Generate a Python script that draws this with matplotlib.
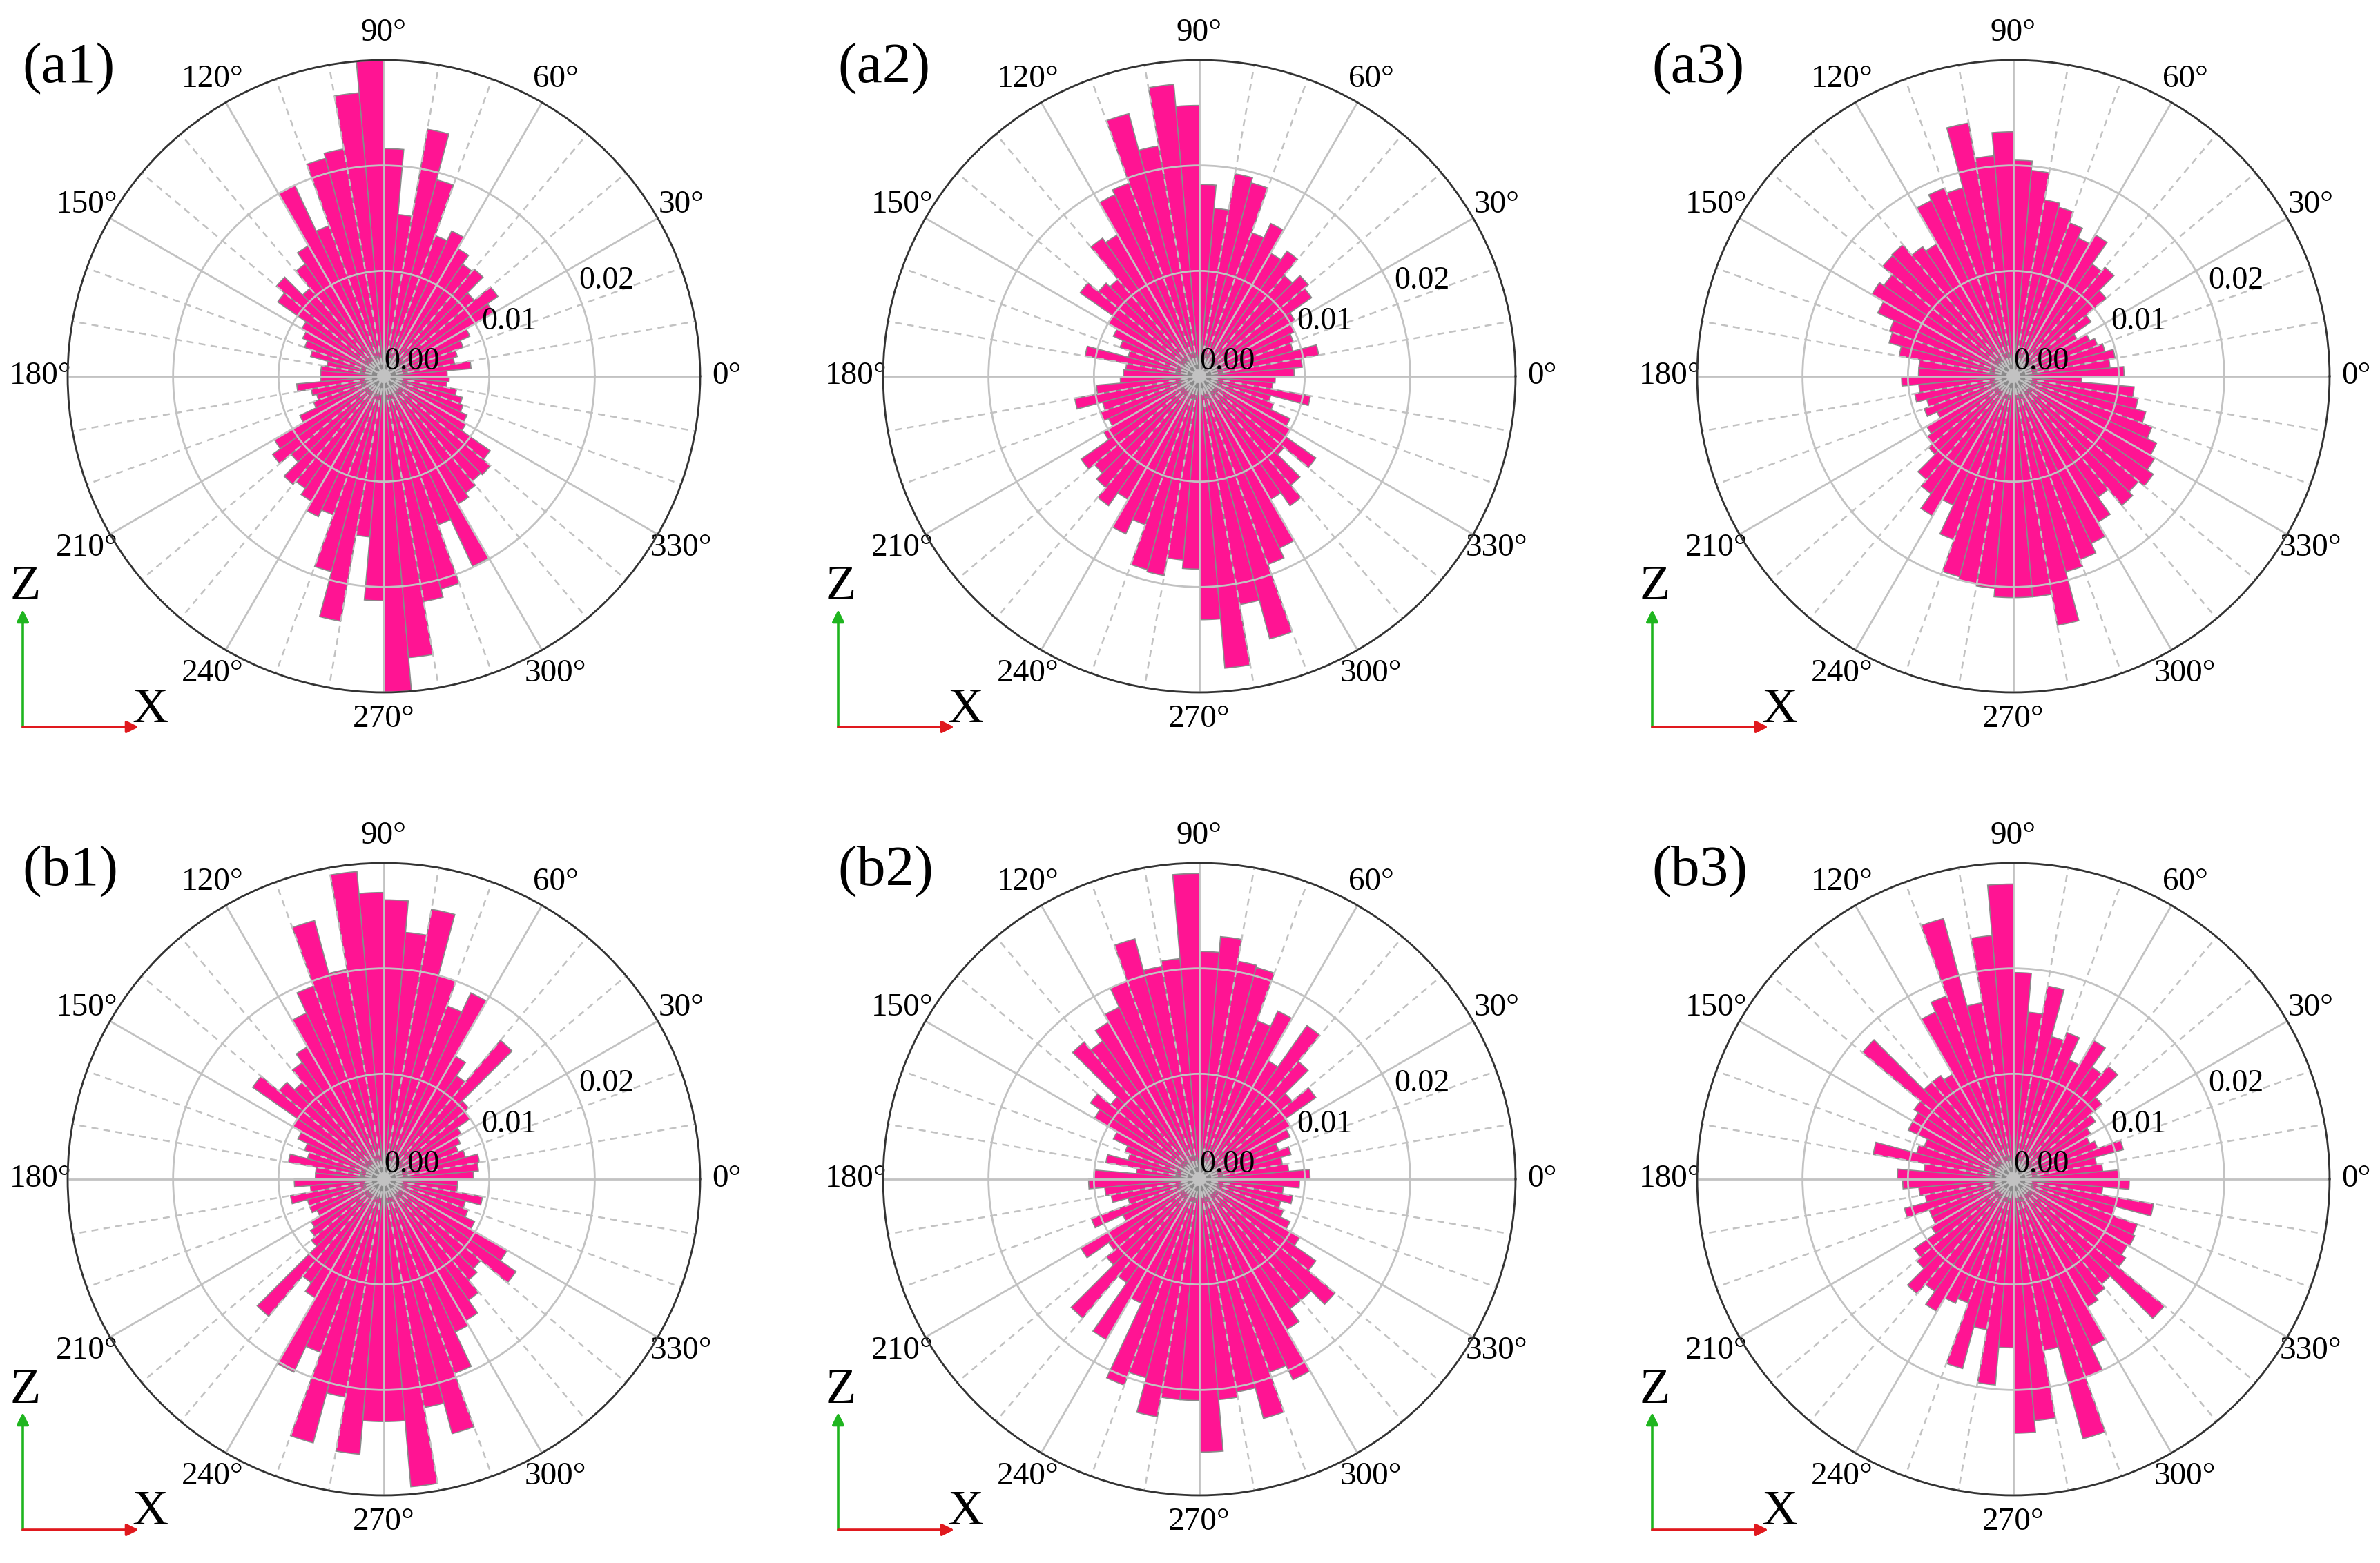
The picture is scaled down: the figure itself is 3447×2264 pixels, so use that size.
import numpy as np
import matplotlib
matplotlib.use('Agg')
import matplotlib.pyplot as plt
from matplotlib.patches import FancyArrowPatch

plt.rcParams['font.family'] = ['Liberation Serif', 'DejaVu Serif']

# bins of 5 degrees, starting at 0
bin_start = np.arange(0, 360, 5)
panel_names = ['(a1)', '(a2)', '(a3)', '(b1)', '(b2)', '(b3)']
theta_labels = [f'{d}\u00b0' for d in range(0, 360, 30)]
r_ticks = [0.0, 0.01, 0.02, 0.03]
r_labels = ['0.00', '0.01', '0.02', '']

# frequencies per bin
a1 = [.0060, .0083, .0068, .0072, .0080, .0090, .0120, .0132, .0112, .0133, .0130, .0140, .0152, .0142, .0193, .0238, .0154, .0216,
      .0300, .0270, .0219, .0214, .0152, .0200, .0143, .0130, .0109, .0133, .0123, .0090, .0085, .0080, .0072, .0055, .0060, .0060,
      .0060, .0083, .0070, .0066, .0071, .0088, .0120, .0129, .0115, .0134, .0130, .0137, .0147, .0140, .0192, .0236, .0153, .0213,
      .0300, .0268, .0217, .0209, .0150, .0199, .0140, .0135, .0130, .0132, .0123, .0090, .0087, .0080, .0077, .0070, .0060, .0062]
a2 = [.0090, .0098, .0115, .0092, .0095, .0100, .0105, .0130, .0135, .0125, .0145, .0135, .0160, .0145, .0190, .0195, .0160, .0182,
      .0257, .0278, .0222, .0258, .0195, .0190, .0155, .0160, .0120, .0125, .0138, .0100, .0090, .0080, .0070, .0110, .0070, .0072,
      .0075, .0098, .0120, .0095, .0100, .0095, .0105, .0137, .0130, .0138, .0150, .0135, .0165, .0150, .0190, .0192, .0175, .0183,
      .0231, .0278, .0220, .0258, .0190, .0180, .0135, .0150, .0135, .0105, .0135, .0100, .0095, .0075, .0070, .0107, .0070, .0072]
a3 = [.0105, .0092, .0098, .0090, .0085, .0080, .0070, .0090, .0115, .0135, .0130, .0155, .0145, .0155, .0166, .0170, .0196, .0205,
      .0232, .0210, .0244, .0185, .0190, .0184, .0145, .0150, .0163, .0162, .0150, .0155, .0142, .0125, .0122, .0110, .0090, .0090,
      .0106, .0090, .0095, .0085, .0090, .0080, .0095, .0100, .0105, .0128, .0136, .0153, .0135, .0165, .0197, .0200, .0202, .0210,
      .0210, .0210, .0240, .0192, .0185, .0175, .0160, .0140, .0160, .0155, .0162, .0155, .0150, .0140, .0130, .0120, .0115, .0065]
b1 = [.0085, .0090, .0092, .0080, .0075, .0080, .0085, .0100, .0105, .0172, .0120, .0135, .0195, .0175, .0200, .0260, .0235, .0265,
      .0272, .0293, .0202, .0254, .0195, .0174, .0145, .0135, .0120, .0130, .0152, .0100, .0090, .0080, .0075, .0092, .0065, .0065,
      .0085, .0070, .0090, .0075, .0075, .0070, .0080, .0085, .0090, .0170, .0120, .0130, .0202, .0175, .0259, .0210, .0262, .0230,
      .0230, .0293, .0220, .0250, .0196, .0160, .0155, .0140, .0125, .0120, .0153, .0135, .0095, .0085, .0080, .0095, .0070, .0070]
b2 = [.0105, .0085, .0080, .0090, .0080, .0095, .0100, .0135, .0115, .0146, .0178, .0130, .0176, .0160, .0208, .0210, .0231, .0216,
      .0290, .0210, .0205, .0236, .0200, .0180, .0172, .0160, .0170, .0110, .0126, .0115, .0090, .0075, .0070, .0090, .0060, .0100,
      .0105, .0090, .0085, .0070, .0109, .0080, .0130, .0105, .0115, .0172, .0120, .0176, .0130, .0208, .0195, .0229, .0210, .0210,
      .0259, .0210, .0205, .0235, .0195, .0210, .0165, .0150, .0150, .0168, .0135, .0110, .0095, .0085, .0080, .0090, .0080, .0095]
b3 = [.0100, .0085, .0080, .0108, .0085, .0080, .0085, .0095, .0110, .0140, .0130, .0152, .0125, .0148, .0140, .0186, .0159, .0196,
      .0280, .0232, .0170, .0256, .0185, .0175, .0115, .0120, .0120, .0187, .0115, .0110, .0110, .0090, .0095, .0135, .0085, .0110,
      .0105, .0090, .0085, .0107, .0085, .0085, .0090, .0115, .0120, .0142, .0130, .0145, .0130, .0125, .0186, .0145, .0196, .0160,
      .0241, .0230, .0165, .0255, .0200, .0175, .0140, .0135, .0130, .0187, .0130, .0125, .0127, .0125, .0100, .0135, .0085, .0110]
panels = [a1, a2, a3, b1, b2, b3]

W, H = 3448, 2264
R = 458                      # circle radius in pixels
col_x = [556, 1737, 2916]    # circle centres
row_y = [545, 1708]

fig = plt.figure(figsize=(W / 200, H / 200), dpi=200)


def fx(px):
    return px / W


def fy(py):
    return 1 - py / H


for i, (name, vals) in enumerate(zip(panel_names, panels)):
    cx, cy = col_x[i % 3], row_y[i // 3]
    ax = fig.add_axes([fx(cx - R), fy(cy + R), 2 * R / W, 2 * R / H], projection='polar')
    theta = np.deg2rad(bin_start + 2.5)
    ax.bar(theta, vals, width=np.deg2rad(5), bottom=0.0, color='#ff1493',
           edgecolor='#8a8a8a', linewidth=0.6)
    ax.set_ylim(0, 0.03)
    ax.set_yticks(r_ticks)
    ax.set_yticklabels(r_labels)
    ax.set_xticks(np.deg2rad(np.arange(0, 360, 30)))
    ax.set_xticklabels(theta_labels)
    ax.set_xticks(np.deg2rad([d for d in range(0, 360, 10) if d % 30]), minor=True)
    ax.grid(True, which='major', color='#c2c2c2', linewidth=1.0, linestyle='-')
    ax.xaxis.grid(True, which='minor', color='#c2c2c2', linewidth=0.9, linestyle=(0, (4, 3)))
    ax.tick_params(axis='both', which='both', length=0, labelsize=16.5)
    ax.tick_params(axis='x', pad=7, labelsize=17)
    ax.spines['polar'].set_color('#333333')
    ax.spines['polar'].set_linewidth(1.0)

    # panel tag
    fig.text(fx(cx - 524), fy(cy - 483), name, fontsize=30, ha='left', va='top')

    # small Z / X frame
    ox, oy = cx - 523, cy + 508
    fig.add_artist(FancyArrowPatch((fx(ox), fy(oy)), (fx(ox), fy(oy - 170)),
                                   transform=fig.transFigure, arrowstyle='-|>',
                                   mutation_scale=13, color='#1fb51f', lw=1.3,
                                   shrinkA=0, shrinkB=0))
    fig.add_artist(FancyArrowPatch((fx(ox), fy(oy)), (fx(ox + 168), fy(oy)),
                                   transform=fig.transFigure, arrowstyle='-|>',
                                   mutation_scale=13, color='#e0191e', lw=1.3,
                                   shrinkA=0, shrinkB=0))
    fig.text(fx(cx - 519), fy(cy + 306), 'Z', fontsize=26, ha='center', va='center')
    fig.text(fx(cx - 339), fy(cy + 483), 'X', fontsize=26, ha='center', va='center')

fig.savefig('out.png', dpi=200, facecolor='white')
